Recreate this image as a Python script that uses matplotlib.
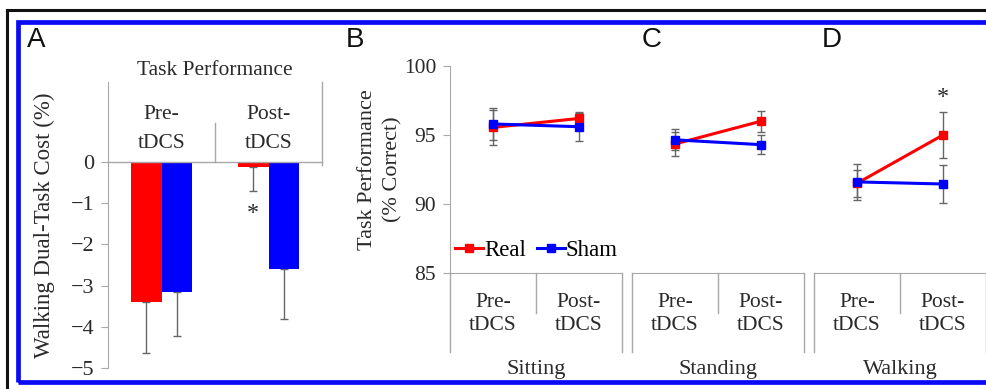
import matplotlib
matplotlib.use("Agg")
import matplotlib.pyplot as plt
from matplotlib.lines import Line2D
import matplotlib.transforms as mtransforms

plt.rcParams["font.family"] = ["Liberation Serif", "DejaVu Serif"]

# ---------------- data ----------------
timepoints = ["Pre-\ntDCS", "Post-\ntDCS"]
conditions = ["Sitting", "Standing", "Walking"]
panel_letters = ["B", "C", "D"]

# Panel A: walking dual-task cost (%)
cost_real = [-3.39, -0.12]
cost_real_err = [1.25, 0.58]
cost_sham = [-3.15, -2.60]
cost_sham_err = [1.07, 1.22]

# Panels B-D: task performance (% correct)
sitting_real = [95.55, 96.2]
sitting_real_err = [1.25, 0.45]
sitting_sham = [95.8, 95.6]
sitting_sham_err = [1.15, 1.0]

standing_real = [94.35, 96.0]
standing_real_err = [0.9, 0.75]
standing_sham = [94.65, 94.3]
standing_sham_err = [0.75, 0.7]

walking_real = [91.5, 95.0]
walking_real_err = [1.0, 1.67]
walking_sham = [91.6, 91.45]
walking_sham_err = [1.3, 1.38]

yticks_A = [0, -1, -2, -3, -4, -5]
yticks_B = [85, 90, 95, 100]

RED = "#FF0000"
BLUE = "#0000FF"
GRAY = "#A8A8A8"
ERR = "#666666"
SANS = ["Liberation Sans", "DejaVu Sans"]
FS = 15.5
TXT = "#2A2A2A"

W, H = 986, 389
fig = plt.figure(figsize=(W / 100, H / 100), dpi=100)


def px_axes(x0, y0, x1, y1):
    return fig.add_axes([x0 / W, 1 - y1 / H, (x1 - x0) / W, (y1 - y0) / H])


def ftext(x, y, s, **kw):
    fig.text(x / W, 1 - y / H, s, **kw)


# ---------------- borders ----------------
fig.add_artist(Line2D([7 / W, 1.01], [1 - 10 / H, 1 - 10 / H], color="#111111", lw=2.2,
                      transform=fig.transFigure))
fig.add_artist(Line2D([7 / W, 7 / W], [1 - 10 / H, -0.01], color="#111111", lw=2.2,
                      transform=fig.transFigure))
fig.add_artist(plt.Rectangle((17.5 / W, 1 - 381.5 / H), (995 - 17.5) / W, (381.5 - 21.5) / H,
                             fill=False, edgecolor="#0A0AF5", lw=3.4,
                             transform=fig.transFigure))

# ---------------- Panel A ----------------
axA = px_axes(108, 82, 322, 368)
top_A = 0 + (162 - 82) / ((368 - 162) / 5.0)
axA.set_xlim(0, 2)
axA.set_ylim(-5, top_A)
bw = 0.285
xc = [0.5, 1.5]
axA.bar([x - bw / 2 for x in xc], cost_real, width=bw, color=RED, zorder=2)
axA.bar([x + bw / 2 for x in xc], cost_sham, width=bw, color=BLUE, zorder=2)
for x, v, e in zip(xc, cost_real, cost_real_err):
    axA.errorbar([x - bw / 2], [v], yerr=[[e], [0]], fmt="none", ecolor=ERR, elinewidth=1,
                 capsize=3, capthick=1, zorder=1)
for x, v, e in zip(xc, cost_sham, cost_sham_err):
    axA.errorbar([x + bw / 2], [v], yerr=[[e], [0]], fmt="none", ecolor=ERR, elinewidth=1,
                 capsize=3, capthick=1, zorder=1)
for s in ["top", "right", "bottom"]:
    axA.spines[s].set_visible(False)
axA.spines["left"].set_color(GRAY)
axA.set_xticks([])
axA.set_yticks(yticks_A)
axA.set_yticklabels(["0" if t == 0 else "\u2212%d" % -t for t in yticks_A])
axA.tick_params(axis="y", colors=GRAY, labelcolor=TXT, labelsize=16, length=5, pad=5)
axA.set_ylabel("Walking Dual-Task Cost (%)", fontsize=16.5, labelpad=11, color=TXT)
# category box above zero
axA.plot([0, 2], [0, 0], color=GRAY, lw=1, clip_on=False, zorder=3)
axA.plot([2, 2], [top_A, -0.07], color=GRAY, lw=1, clip_on=False)
axA.plot([1, 1], [(162 - 123) / 41.2, 0], color=GRAY, lw=1, clip_on=False)
for x, t in zip(xc, timepoints):
    axA.text(x, 0.80, t, ha="center", va="center", fontsize=FS, color=TXT, linespacing=1.65)
axA.text(1, top_A + 0.05, "Task Performance", ha="center", va="bottom", fontsize=FS,
         color=TXT)
axA.text(1.5 - bw / 2, -1.24, "*", ha="center", va="center", fontsize=FS + 2, color=TXT)
ftext(27, 40, "A", fontsize=20, family=SANS, va="center", ha="left", color="#111111")

# ---------------- Panels B-D ----------------
real_all = [sitting_real, standing_real, walking_real]
real_err_all = [sitting_real_err, standing_real_err, walking_real_err]
sham_all = [sitting_sham, standing_sham, walking_sham]
sham_err_all = [sitting_sham_err, standing_sham_err, walking_sham_err]

lefts = [450, 632, 814]
letter_x = [346, 642, 822]
pw = 172
axes = []
for i, cond in enumerate(conditions):
    ax = px_axes(lefts[i], 66, lefts[i] + pw, 273)
    axes.append(ax)
    ax.set_xlim(0, 2)
    ax.set_ylim(85, 100)
    ax.errorbar(xc, real_all[i], yerr=real_err_all[i], fmt="none", ecolor=ERR,
                elinewidth=1, capsize=3, capthick=1, zorder=1)
    ax.errorbar(xc, sham_all[i], yerr=sham_err_all[i], fmt="none", ecolor=ERR,
                elinewidth=1, capsize=3, capthick=1, zorder=1)
    ax.plot(xc, real_all[i], color=RED, lw=2.2, marker="s", ms=6, label="Real", zorder=3)
    ax.plot(xc, sham_all[i], color=BLUE, lw=2.2, marker="s", ms=6, label="Sham", zorder=4)
    for s in ["top", "right"]:
        ax.spines[s].set_visible(False)
    ax.spines["bottom"].set_color(GRAY)
    ax.set_xticks([])
    if i == 0:
        ax.spines["left"].set_color(GRAY)
        ax.set_yticks(yticks_B)
        ax.tick_params(axis="y", colors=GRAY, labelcolor=TXT, labelsize=15.5, length=5,
                       pad=5)
        ax.set_ylabel("Task Performance\n(% Correct)", fontsize=16, labelpad=1, color=TXT,
                      linespacing=1.4)
    else:
        ax.spines["left"].set_visible(False)
        ax.set_yticks([])
    trans = mtransforms.blended_transform_factory(ax.transData, ax.transAxes)
    ax.plot([0, 0], [0, -0.382], color=GRAY, lw=1, transform=trans, clip_on=False)
    ax.plot([2, 2], [0, -0.382], color=GRAY, lw=1, transform=trans, clip_on=False)
    ax.plot([1, 1], [0, -0.193], color=GRAY, lw=1, transform=trans, clip_on=False)
    for x, t in zip(xc, timepoints):
        ax.text(x, -0.2, t, ha="center", va="center", transform=trans, fontsize=FS,
                color=TXT, linespacing=1.3)
    ax.text(1, -0.465, cond, ha="center", va="center", transform=trans, fontsize=16,
            color=TXT)
    ftext(letter_x[i], 40, panel_letters[i], fontsize=20, family=SANS, va="center",
          ha="left", color="#111111")

axes[2].text(1.5, 97.7, "*", ha="center", va="center", fontsize=FS + 2, color=TXT)

leg = axes[0].legend(loc="center left", bbox_to_anchor=(0.03, 0.11), ncol=2, frameon=False,
                     prop={"size": 16.5}, handlelength=1.2, handletextpad=0.05,
                     columnspacing=0.5, borderaxespad=0, borderpad=0)

fig.savefig("out.png", dpi=100)
